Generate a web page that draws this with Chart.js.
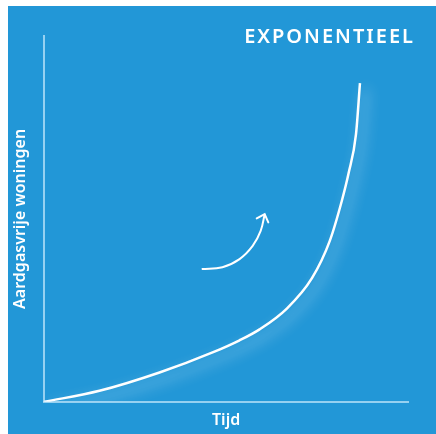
<!DOCTYPE html>
<html>
<head>
<meta charset="utf-8">
<script src="https://cdn.jsdelivr.net/npm/chart.js@4/dist/chart.umd.min.js"></script>
<style>
  html, body { margin: 0; padding: 0; background: #fff; }
  #wrap { position: absolute; left: 8px; top: 6px; width: 428px; height: 428px; background: #2297d7; }
</style>
</head>
<body>
<div id="wrap"><canvas id="chart" width="428" height="428"></canvas></div>
<script>
// curve: tijd (x) against aardgasvrije woningen (y) (0-100 scale)
var tijd     = [0, 15.2, 31.7, 46.8, 53.7, 59.2, 66.7, 73.6, 78.5, 81.8, 83.7, 85.7, 86.8];
var woningen = [0, 3.0, 8.0, 13.7, 16.8, 19.8, 25.5, 33.8, 44.0, 54.9, 62.6, 73.1, 87.1];

// the small curved arrow
var pijlX = [43.3, 49.0, 53.7, 57.3, 59.5, 60.6];
var pijlY = [36.3, 36.8, 39.0, 42.6, 46.7, 51.3];

var titel = 'EXPONENTIEEL';
var asX = 'Tijd';
var asY = 'Aardgasvrije woningen';

var axisColor = 'rgba(190,228,250,0.75)';
var fontFamily = '"Noto Sans", "Open Sans", sans-serif';

function pts(xs, ys) {
  return xs.map(function (x, i) { return {x: x, y: ys[i]}; });
}

var glow = {
  id: 'glow',
  beforeDatasetDraw: function (chart, args) {
    if (args.index !== 0) return;
    var ctx = chart.ctx;
    ctx.save();
    ctx.shadowColor = 'rgba(255,255,255,0.65)';
    ctx.shadowBlur = 14;
    ctx.shadowOffsetX = 6;
    ctx.shadowOffsetY = 6;
  },
  afterDatasetDraw: function (chart, args) {
    if (args.index !== 0) return;
    chart.ctx.restore();
  }
};

var arrowHead = {
  id: 'arrowHead',
  afterDatasetsDraw: function (chart) {
    var p = chart.getDatasetMeta(1).data;
    var last = p[p.length - 1], prev = p[p.length - 2];
    var a = Math.atan2(last.y - prev.y, last.x - prev.x) + 0.1;
    var ctx = chart.ctx, len = 9, spread = 0.75;
    ctx.save();
    ctx.strokeStyle = '#fff';
    ctx.lineWidth = 2;
    ctx.lineCap = 'round';
    ctx.beginPath();
    ctx.moveTo(last.x - len * Math.cos(a - spread), last.y - len * Math.sin(a - spread));
    ctx.lineTo(last.x, last.y);
    ctx.lineTo(last.x - len * Math.cos(a + spread), last.y - len * Math.sin(a + spread));
    ctx.stroke();
    ctx.restore();
  }
};

var heading = {
  id: 'heading',
  afterDraw: function (chart) {
    var ctx = chart.ctx;
    ctx.save();
    ctx.font = '600 20px ' + fontFamily;
    ctx.fillStyle = '#fff';
    ctx.letterSpacing = '2px';
    ctx.textAlign = 'right';
    ctx.textBaseline = 'alphabetic';
    ctx.fillText(titel, 407, 37);
    ctx.restore();
  }
};

var ctx = document.getElementById('chart').getContext('2d');
var chart = new Chart(ctx, {
  type: 'line',
  data: {
    datasets: [{
      data: pts(tijd, woningen),
      borderColor: '#fff',
      borderWidth: 2.5,
      pointRadius: 0,
      cubicInterpolationMode: 'monotone',
      fill: false
    }, {
      data: pts(pijlX, pijlY),
      borderColor: '#fff',
      borderWidth: 2,
      pointRadius: 0,
      tension: 0.4,
      fill: false
    }]
  },
  options: {
    responsive: false,
    animation: false,
    layout: { padding: { top: 30, right: 28, left: 0, bottom: 0 } },
    plugins: {
      legend: { display: false },
      tooltip: { enabled: false }
    },
    scales: {
      x: {
        type: 'linear',
        min: 0,
        max: 100,
        grid: { display: false, drawTicks: false },
        ticks: { display: false },
        border: { color: axisColor, width: 2 },
        title: {
          display: true,
          text: asX,
          color: '#fff',
          font: { family: fontFamily, size: 16, weight: 600 },
          padding: { top: 9, bottom: 4 }
        }
      },
      y: {
        min: 0,
        max: 100,
        grid: { display: false, drawTicks: false },
        ticks: { display: false },
        border: { color: axisColor, width: 2 },
        title: {
          display: true,
          text: asY,
          color: '#fff',
          font: { family: fontFamily, size: 16, weight: 600 },
          padding: { top: 3, bottom: 14 }
        }
      }
    }
  },
  plugins: [glow, arrowHead, heading]
});
</script>
</body>
</html>
